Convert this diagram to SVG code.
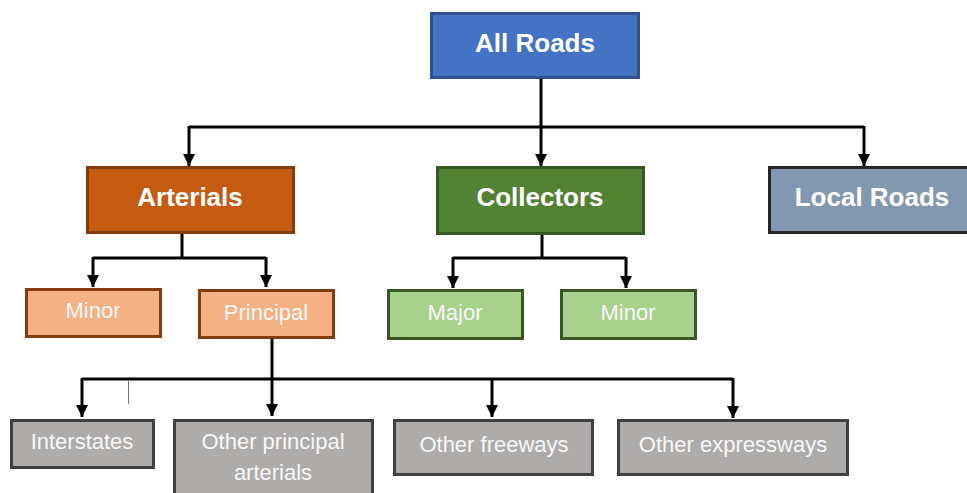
<svg xmlns="http://www.w3.org/2000/svg" width="967" height="493" viewBox="0 0 967 493">
<style>
.t1{font-family:"Liberation Sans",Arial,sans-serif;font-weight:bold;font-size:26px;fill:#ffffff;text-anchor:middle}
.t2{font-family:"Liberation Sans",Arial,sans-serif;font-size:22px;fill:#f8f8f8;text-anchor:middle}
.c{fill:none;stroke:#000;stroke-width:3}
.b{stroke-width:3}
</style>
<defs>
<marker id="ah" markerUnits="userSpaceOnUse" markerWidth="14" markerHeight="14" viewBox="0 0 14 14" refX="13" refY="7" orient="auto">
<path d="M1 1 L13 7 L1 13 Z" fill="#000"/>
</marker>
</defs>
<rect width="967" height="493" fill="#ffffff"/>
<g id="connectors">
<path class="c" d="M541 78 V127"/>
<path class="c" d="M189 127 H864"/>
<path class="c" d="M189 126 V166" marker-end="url(#ah)"/>
<path class="c" d="M541 126 V166" marker-end="url(#ah)"/>
<path class="c" d="M864 126 V166" marker-end="url(#ah)"/>
<path class="c" d="M182 233 V258"/>
<path class="c" d="M93 258 H266"/>
<path class="c" d="M93 257 V287" marker-end="url(#ah)"/>
<path class="c" d="M266 257 V287" marker-end="url(#ah)"/>
<path class="c" d="M542 234 V258"/>
<path class="c" d="M453 258 H626"/>
<path class="c" d="M453 257 V288" marker-end="url(#ah)"/>
<path class="c" d="M626 257 V288" marker-end="url(#ah)"/>
<path class="c" d="M272 338 V379"/>
<path class="c" d="M82 379 H733"/>
<path class="c" d="M82 378 V417" marker-end="url(#ah)"/>
<path class="c" d="M272 378 V416" marker-end="url(#ah)"/>
<path class="c" d="M492 378 V417" marker-end="url(#ah)"/>
<path class="c" d="M733 378 V418" marker-end="url(#ah)"/>
<path d="M128.5 381 V404" stroke="#777" stroke-width="1" fill="none"/>
</g>
<g id="all-roads">
<rect class="b" x="431.5" y="13.5" width="207" height="64" fill="#4472C4" stroke="#2F528F"/>
<text class="t1" x="535" y="52">All Roads</text>
</g>
<g id="arterials">
<rect class="b" x="87.5" y="167.5" width="206" height="65" fill="#C55A11" stroke="#843C0C"/>
<text class="t1" x="190" y="206">Arterials</text>
</g>
<g id="collectors">
<rect class="b" x="437.5" y="167.5" width="206" height="66" fill="#548235" stroke="#385723"/>
<text class="t1" x="540" y="206">Collectors</text>
</g>
<g id="local-roads">
<rect class="b" x="769.5" y="167.5" width="210" height="65" fill="#8497B0" stroke="#262626"/>
<text class="t1" x="872" y="206">Local Roads</text>
</g>
<g id="arterial-minor">
<rect class="b" x="26.5" y="289.5" width="134" height="47" fill="#F4B183" stroke="#843C0C"/>
<text class="t2" x="93" y="318">Minor</text>
</g>
<g id="principal">
<rect class="b" x="199.5" y="290.5" width="134" height="47" fill="#F4B183" stroke="#843C0C"/>
<text class="t2" x="266" y="320">Principal</text>
</g>
<g id="major">
<rect class="b" x="388.5" y="290.5" width="134" height="48" fill="#A9D18E" stroke="#385723"/>
<text class="t2" x="455" y="320">Major</text>
</g>
<g id="collector-minor">
<rect class="b" x="561.5" y="290.5" width="134" height="48" fill="#A9D18E" stroke="#385723"/>
<text class="t2" x="628" y="320">Minor</text>
</g>
<g id="interstates">
<rect class="b" x="11.5" y="420.5" width="142" height="47" fill="#AEABAB" stroke="#404040"/>
<text class="t2" x="82" y="449">Interstates</text>
</g>
<g id="other-principal-arterials">
<rect class="b" x="174.5" y="420.5" width="198" height="80" fill="#AEABAB" stroke="#404040"/>
<text class="t2" x="273" y="449">Other principal</text>
<text class="t2" x="273" y="480">arterials</text>
</g>
<g id="other-freeways">
<rect class="b" x="394.5" y="420.5" width="198" height="54" fill="#AEABAB" stroke="#404040"/>
<text class="t2" x="494" y="452">Other freeways</text>
</g>
<g id="other-expressways">
<rect class="b" x="618.5" y="420.5" width="229" height="54" fill="#AEABAB" stroke="#404040"/>
<text class="t2" x="733" y="452">Other expressways</text>
</g>
</svg>
